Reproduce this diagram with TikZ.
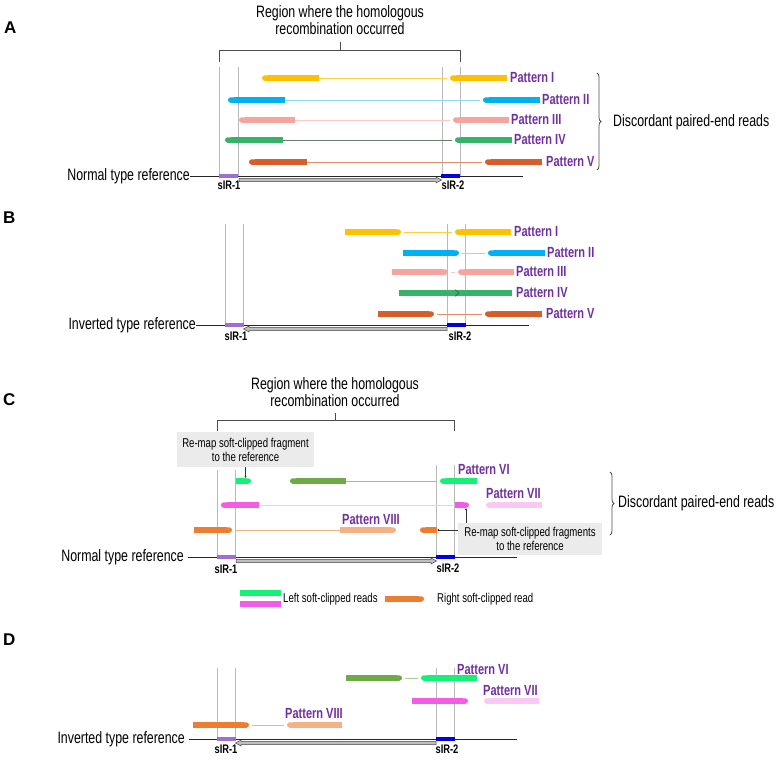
\documentclass[tikz,border=0pt]{standalone}
\usepackage{fontspec}
\setmainfont{Liberation Sans}[FakeStretch=0.75]
\newfontfamily\panelfont{Liberation Sans}
\usepackage{xcolor}
\usepackage{tikz}
\usetikzlibrary{arrows.meta,positioning,calc,decorations.pathreplacing}
\definecolor{ylwread}{RGB}{255,192,0}
\definecolor{bluread}{RGB}{0,176,240}
\definecolor{pnkread}{RGB}{248,164,158}
\definecolor{grnread}{RGB}{56,178,104}
\definecolor{rstread}{RGB}{214,94,42}
\definecolor{limeread}{RGB}{22,240,118}
\definecolor{oliveread}{RGB}{112,170,70}
\definecolor{magread}{RGB}{242,92,230}
\definecolor{lpkread}{RGB}{250,200,245}
\definecolor{orgread}{RGB}{236,126,52}
\definecolor{pchread}{RGB}{244,178,132}
\definecolor{patpurple}{RGB}{112,48,160}
\definecolor{sirlilac}{RGB}{160,110,210}
\definecolor{sirblue}{RGB}{0,0,225}
\definecolor{notegray}{RGB}{235,235,235}
\definecolor{linkgreen}{RGB}{105,125,105}

\begin{document}
\begin{tikzpicture}[
    x=1pt, y=-1pt,
    font=\fontsize{16.5}{17}\selectfont,
    read/.style={line width=5.5pt},
    link/.style={line width=0.9pt},
    guide/.style={draw=gray!55, line width=0.6pt},
    refline/.style={draw=black!85, line width=0.9pt},
    bracket/.style={draw=black!70, line width=0.9pt},
    curly/.style={
        draw=black!70,
        line width=0.8pt,
        decorate,
        decoration={brace, amplitude=4pt}
    },
    regionarrow/.style={fill=gray!50, draw=gray!55!black, line width=0.5pt},
    sirbox/.style={
        rectangle,
        inner sep=0pt,
        minimum width=19pt,
        minimum height=4.5pt
    },
    sirlabel/.style={font=\fontsize{12.4}{13}\selectfont\bfseries, inner sep=0pt},
    patlabel/.style={
        font=\fontsize{14.7}{15}\selectfont\bfseries,
        text=patpurple,
        inner sep=0pt,
        anchor=west
    },
    plaintext/.style={inner sep=0pt},
    panellabel/.style={font=\panelfont\fontsize{17}{18}\selectfont\bfseries, inner sep=0pt, anchor=west},
    notebox/.style={
        rectangle,
        fill=notegray,
        align=center,
        inner sep=2pt,
        font=\fontsize{12.8}{14}\selectfont
    },
    pointer/.style={draw=black!80, line width=0.5pt, -{Circle[length=1.8pt]}}
]
\useasboundingbox (0,0) rectangle (780,761);

% ---------------- panel A: normal type reference
\node[panellabel] (panA) at (4,28) {A};
\node[plaintext, align=center, anchor=south] (titleA) at (340,35) {Region where the homologous\\recombination occurred};
\coordinate (brAmid) at (340,50);
\coordinate (brAtick) at (340,42);
\draw[bracket] (219,62) -- (219,50) -- (460,50) -- (460,62);
\draw[bracket] (brAmid) -- (brAtick);

\draw[guide] (219,67) -- (219,176);
\draw[guide] (238,67) -- (238,176);
\draw[guide] (442,67) -- (442,176);
\draw[guide] (460,67) -- (460,176);

\draw[link, draw=ylwread!75] (319,78) -- (447,78);
\draw[read, draw=ylwread, {Round Cap[]}-] (262,78) -- (319,78);
\draw[read, draw=ylwread, {Round Cap[]}-] (450,78) -- (507,78);
\node[patlabel] (patA1) at (510,78) {Pattern I};

\draw[link, draw=bluread!45] (285,100) -- (480,100);
\draw[read, draw=bluread, {Round Cap[]}-] (228,100) -- (285,100);
\draw[read, draw=bluread, {Round Cap[]}-] (483,100) -- (540,100);
\node[patlabel] (patA2) at (542,100) {Pattern II};

\draw[link, draw=pnkread!60] (295,120) -- (450,120);
\draw[read, draw=pnkread, {Round Cap[]}-] (239,120) -- (295,120);
\draw[read, draw=pnkread, {Round Cap[]}-] (453,120) -- (509,120);
\node[patlabel] (patA3) at (511,120) {Pattern III};

\draw[link, draw=linkgreen] (283,140) -- (452,140);
\draw[read, draw=grnread, {Round Cap[]}-] (225,140) -- (283,140);
\draw[read, draw=grnread, {Round Cap[]}-] (455,140) -- (512,140);
\node[patlabel] (patA4) at (514,140) {Pattern IV};

\draw[link, draw=rstread!70] (307,162) -- (482,162);
\draw[read, draw=rstread, {Round Cap[]}-] (249,162) -- (307,162);
\draw[read, draw=rstread, {Round Cap[]}-] (485,162) -- (542,162);
\node[patlabel] (patA5) at (546,162) {Pattern V};

\node[plaintext, anchor=east] (refA) at (190,176) {Normal type reference};
\coordinate (refAend) at (523,176);
\draw[refline] (refA.east) -- (refAend);
\node[sirbox, fill=sirlilac] (sirA1) at (228.5,176) {};
\node[sirbox, fill=sirblue] (sirA2) at (450.5,176) {};
\draw[regionarrow] (239,178.3) -- (436,178.3) -- (436,177) -- (441.5,180) -- (436,183) -- (436,181.7) -- (239,181.7) -- cycle;
\node[sirlabel] (labA1) at (229,185.5) {sIR-1};
\node[sirlabel] (labA2) at (453,185.5) {sIR-2};

\node[plaintext, anchor=west] (discA) at (613,122) {Discordant paired-end reads};
\coordinate (brcAtop) at (597,73);
\coordinate (brcAbot) at (597,170);
\draw[curly] (brcAtop) -- (brcAbot);

% ---------------- panel B: inverted type reference
\node[panellabel] (panB) at (3,218) {B};

\draw[guide] (225,224) -- (225,325);
\draw[guide] (243,224) -- (243,325);
\draw[guide] (447,224) -- (447,325);
\draw[guide] (465,224) -- (465,325);

\draw[link, draw=ylwread!75] (404,232) -- (452,232);
\draw[read, draw=ylwread, -{Round Cap[]}] (345,232) -- (401,232);
\draw[read, draw=ylwread, {Round Cap[]}-] (455,232) -- (511,232);
\node[patlabel] (patB1) at (514,232) {Pattern I};

\draw[link, draw=bluread!45] (462,253) -- (485,253);
\draw[read, draw=bluread, -{Round Cap[]}] (403,253) -- (459,253);
\draw[read, draw=bluread, {Round Cap[]}-] (488,253) -- (545,253);
\node[patlabel] (patB2) at (547,253) {Pattern II};

\draw[link, draw=pnkread!60] (451,272) -- (455,272);
\draw[read, draw=pnkread, -{Round Cap[]}] (392,272) -- (448,272);
\draw[read, draw=pnkread, {Round Cap[]}-] (458,272) -- (514,272);
\node[patlabel] (patB3) at (516,272) {Pattern III};

\draw[read, draw=grnread] (399,293) -- (512,293);
\draw[draw=grnread!60!black, line width=0.6pt] (455,289.5) -- (459,293) -- (455,296.5);
\node[patlabel] (patB4) at (516,293) {Pattern IV};

\draw[link, draw=rstread!70] (437,314) -- (482,314);
\draw[read, draw=rstread, -{Round Cap[]}] (378,314) -- (434,314);
\draw[read, draw=rstread, {Round Cap[]}-] (485,314) -- (542,314);
\node[patlabel] (patB5) at (546,314) {Pattern V};

\node[plaintext, anchor=east] (refB) at (196,325) {Inverted type reference};
\coordinate (refBend) at (529,325);
\draw[refline] (refB.east) -- (refBend);
\node[sirbox, fill=sirlilac] (sirB1) at (234,325) {};
\node[sirbox, fill=sirblue] (sirB2) at (456,325) {};
\draw[regionarrow] (447,327.3) -- (249,327.3) -- (249,326) -- (243.5,329) -- (249,332) -- (249,330.7) -- (447,330.7) -- cycle;
\node[sirlabel] (labB1) at (236,336) {sIR-1};
\node[sirlabel] (labB2) at (460,336) {sIR-2};

% ---------------- panel C: soft-clipped reads, normal type
\node[panellabel] (panC) at (3,400) {C};
\node[plaintext, align=center, anchor=south] (titleC) at (335,407) {Region where the homologous\\recombination occurred};
\coordinate (brCmid) at (335,420);
\coordinate (brCtick) at (335,413);
\draw[bracket] (217,431) -- (217,420) -- (454,420) -- (454,431);
\draw[bracket] (brCmid) -- (brCtick);

\draw[guide] (217,470) -- (217,557);
\draw[guide] (235,470) -- (235,557);
\draw[guide] (436,465) -- (436,557);
\draw[guide] (454,465) -- (454,557);

\node[notebox, minimum width=137pt, minimum height=35pt] (remapone) at (245.5,449.5) {Re-map soft-clipped fragment\\to the reference};

\draw[read, draw=limeread, -{Round Cap[]}] (236,481) -- (251,481);
\draw[link, draw=oliveread!70] (346,481) -- (437,481);
\draw[read, draw=oliveread, {Round Cap[]}-] (290,481) -- (346,481);
\draw[read, draw=limeread, {Round Cap[]}-] (440,481) -- (477,481);
\node[patlabel] (patC6) at (458,470) {Pattern VI};
\coordinate (limetip) at (245.5,477.5);
\draw[pointer] (remapone.south) -- (limetip);

\draw[link, draw=lpkread] (259,505) -- (455,505);
\draw[read, draw=magread, {Round Cap[]}-] (221,505) -- (259,505);
\draw[read, draw=magread, -{Round Cap[]}] (455,505) -- (469,505);
\draw[read, draw=lpkread, {Round Cap[]}-] (486,505) -- (542,505);
\node[patlabel] (patC7) at (486,494) {Pattern VII};

\draw[link, draw=pchread] (235,530) -- (340,530);
\draw[read, draw=orgread, -{Round Cap[]}] (194,530) -- (232,530);
\draw[read, draw=pchread, -{Round Cap[]}] (340,530) -- (396,530);
\draw[read, draw=orgread, {Round Cap[]}-] (420,530) -- (437,530);
\node[patlabel] (patC8) at (342,520) {Pattern VIII};

\node[notebox, minimum width=144pt, minimum height=32pt] (remaptwo) at (530,539) {Re-map soft-clipped fragments\\to the reference};
\coordinate (magtip) at (466,508.5);
\coordinate (orgtip) at (437.5,530);
\draw[pointer] (remaptwo.north -| magtip) -- (magtip);
\draw[pointer] (remaptwo.west |- orgtip) -- (orgtip);

\node[plaintext, anchor=east] (refC) at (184,557) {Normal type reference};
\coordinate (refCend) at (517,557);
\draw[refline] ([xshift=4pt]refC.east) -- (refCend);
\node[sirbox, fill=sirlilac] (sirC1) at (226,557) {};
\node[sirbox, fill=sirblue] (sirC2) at (445,557) {};
\draw[regionarrow] (236,559.3) -- (431,559.3) -- (431,558) -- (436.5,561) -- (431,564) -- (431,562.7) -- (236,562.7) -- cycle;
\node[sirlabel] (labC1) at (226,569) {sIR-1};
\node[sirlabel] (labC2) at (448,568.5) {sIR-2};

\node[plaintext, anchor=west] (discC) at (618,503) {Discordant paired-end reads};
\coordinate (brcCtop) at (610,472);
\coordinate (brcCbot) at (610,535);
\draw[curly] (brcCtop) -- (brcCbot);

% legend
\draw[read, draw=limeread] (240,593) -- (281,593);
\draw[read, draw=magread] (240,604) -- (281,604);
\node[plaintext, anchor=west, font=\fontsize{12.8}{14}\selectfont] (legleft) at (283,599) {Left soft-clipped reads};
\draw[read, draw=orgread, -{Round Cap[]}] (385,599) -- (424,599);
\node[plaintext, anchor=west, font=\fontsize{12.8}{14}\selectfont] (legright) at (437,599) {Right soft-clipped read};

% ---------------- panel D: soft-clipped reads, inverted type
\node[panellabel] (panD) at (3,640) {D};

\draw[guide] (217,668) -- (217,739);
\draw[guide] (235,668) -- (235,739);
\draw[guide] (436,668) -- (436,739);
\draw[guide] (454,668) -- (454,739);

\draw[link, draw=oliveread!60] (405,678) -- (418,678);
\draw[read, draw=oliveread, -{Round Cap[]}] (346,678) -- (402,678);
\draw[read, draw=limeread, {Round Cap[]}-] (421,678) -- (477,678);
\node[patlabel] (patD6) at (457,670) {Pattern VI};

\draw[read, draw=magread, -{Round Cap[]}] (412,701) -- (468,701);
\draw[read, draw=lpkread, {Round Cap[]}-] (484,701) -- (539,701);
\node[patlabel] (patD7) at (483,691) {Pattern VII};

\draw[link, draw=pchread] (252,725) -- (284,725);
\draw[read, draw=orgread, -{Round Cap[]}] (193,725) -- (249,725);
\draw[read, draw=pchread, {Round Cap[]}-] (287,725) -- (342,725);
\node[patlabel] (patD8) at (285,714) {Pattern VIII};

\node[plaintext, anchor=east] (refD) at (185,739) {Inverted type reference};
\coordinate (refDend) at (517,739);
\draw[refline] ([xshift=4pt]refD.east) -- (refDend);
\node[sirbox, fill=sirlilac] (sirD1) at (226,739) {};
\node[sirbox, fill=sirblue] (sirD2) at (445,739) {};
\draw[regionarrow] (436,741.3) -- (241,741.3) -- (241,740) -- (235.5,743) -- (241,746) -- (241,744.7) -- (436,744.7) -- cycle;
\node[sirlabel] (labD1) at (226,749) {sIR-1};
\node[sirlabel] (labD2) at (447,749) {sIR-2};

\end{tikzpicture}
\end{document}
